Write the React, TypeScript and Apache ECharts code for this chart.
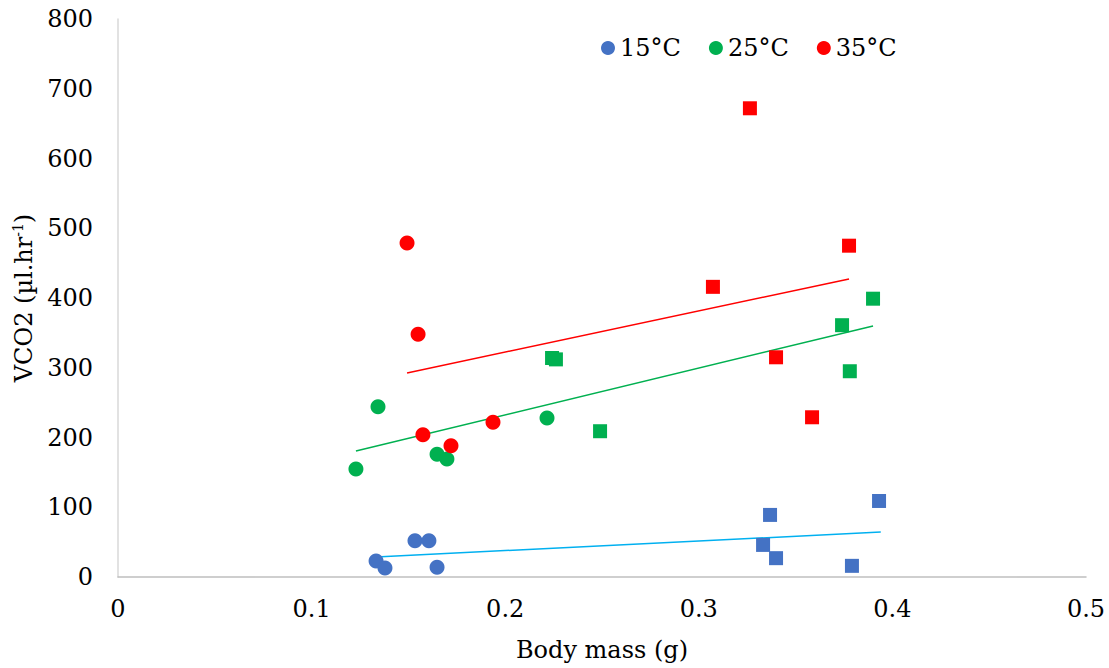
import React, { useEffect, useRef } from "react";
import * as echarts from "echarts";

// Body mass (g) and VCO2 (µl.hr-1) per temperature; circles = small group, squares = large group
const mass15Small = [0.1333, 0.1379, 0.1534, 0.1606, 0.1648];
const vco15Small = [23, 13, 52, 52, 14];
const mass15Large = [0.3368, 0.3332, 0.3399, 0.3791, 0.3931];
const vco15Large = [89, 46, 27, 16, 109];

const mass25Small = [0.1229, 0.1343, 0.1648, 0.1699, 0.2216];
const vco25Small = [155, 244, 176, 169, 228];
const mass25Large = [0.2242, 0.2262, 0.249, 0.374, 0.39, 0.378];
const vco25Large = [314, 312, 209, 361, 399, 295];

const mass35Small = [0.1493, 0.155, 0.1575, 0.172, 0.1937];
const vco35Small = [479, 348, 204, 188, 222];
const mass35Large = [0.3264, 0.3073, 0.3776, 0.3399, 0.3585];
const vco35Large = [672, 416, 475, 315, 229];

// Linear trend line end points [x, y]
const trend15 = [[0.1333, 28.7], [0.394, 64.5]];
const trend25 = [[0.1229, 180.6], [0.39, 360]];
const trend35 = [[0.1493, 292.5], [0.3776, 427.2]];

const legendNames = ["15°C", "25°C", "35°C"];
const colors = ["#4472C4", "#00B050", "#FF0000"];
const trendColors = ["#00B0F0", "#00B050", "#FF0000"];

const FONT = "DejaVu Serif";
const FS = 24;

const zip = (xs: number[], ys: number[]) => xs.map((x, i) => [x, ys[i]]);

export default function App() {
  const ref = useRef<HTMLDivElement>(null);
  useEffect(() => {
    if (!ref.current) return;
    const chart = echarts.init(ref.current, null, { renderer: "svg" });
    const small = [
      zip(mass15Small, vco15Small),
      zip(mass25Small, vco25Small),
      zip(mass35Small, vco35Small),
    ];
    const large = [
      zip(mass15Large, vco15Large),
      zip(mass25Large, vco25Large),
      zip(mass35Large, vco35Large),
    ];
    const trends = [trend15, trend25, trend35];
    const series: any[] = [];
    trends.forEach((t, i) => {
      series.push({
        name: legendNames[i] + " trend",
        type: "line",
        data: t,
        showSymbol: false,
        symbol: "none",
        lineStyle: { color: trendColors[i], width: 1.5 },
        z: 1,
      });
    });
    small.forEach((d, i) => {
      series.push({
        name: legendNames[i],
        type: "scatter",
        data: d,
        symbol: "circle",
        symbolSize: 15,
        itemStyle: { color: colors[i], opacity: 1 },
        z: 3,
      });
    });
    large.forEach((d, i) => {
      series.push({
        name: legendNames[i] + " large",
        type: "scatter",
        data: d,
        symbol: "rect",
        symbolSize: 14,
        itemStyle: { color: colors[i], opacity: 1 },
        z: 3,
      });
    });
    chart.setOption({
      animation: false,
      textStyle: { fontFamily: FONT },
      legend: {
        data: legendNames.map((n) => ({ name: n, icon: "circle" })),
        top: 31,
        left: 596,
        itemWidth: 14,
        itemHeight: 14,
        itemGap: 28,
        textStyle: { fontFamily: FONT, fontSize: FS, color: "#000" },
      },
      grid: {
        left: 118,
        right: 23,
        top: 19,
        bottom: 91,
        containLabel: false,
        outerBoundsMode: "none",
      },
      xAxis: {
        type: "value",
        min: 0,
        max: 0.5,
        interval: 0.1,
        name: "Body mass (g)",
        nameLocation: "middle",
        nameGap: 61,
        nameTextStyle: { fontFamily: FONT, fontSize: FS, color: "#000" },
        axisLine: { show: true, lineStyle: { color: "#BFBFBF", width: 1.5 } },
        axisTick: { show: false },
        splitLine: { show: false },
        axisLabel: { fontFamily: FONT, fontSize: FS, color: "#000", margin: 20 },
      },
      yAxis: {
        type: "value",
        min: 0,
        max: 800,
        interval: 100,
        name: "VCO2 (µl.hr{sup|-1})",
        nameLocation: "middle",
        nameGap: 78,
        nameTextStyle: {
          fontFamily: FONT,
          fontSize: FS,
          color: "#000",
          rich: {
            sup: { fontFamily: FONT, fontSize: 14, color: "#000", verticalAlign: "top", padding: [0, 0, 12, 0] },
          },
        },
        axisLine: { show: true, lineStyle: { color: "#D9D9D9", width: 1.5 } },
        axisTick: { show: false },
        splitLine: { show: false },
        axisLabel: { fontFamily: FONT, fontSize: FS, color: "#000", margin: 25 },
      },
      series,
    });
    return () => chart.dispose();
  }, []);
  return (
    <div
      ref={ref}
      style={{ position: "fixed", left: 0, top: 0, width: 1109, height: 668, background: "#fff" }}
    />
  );
}
